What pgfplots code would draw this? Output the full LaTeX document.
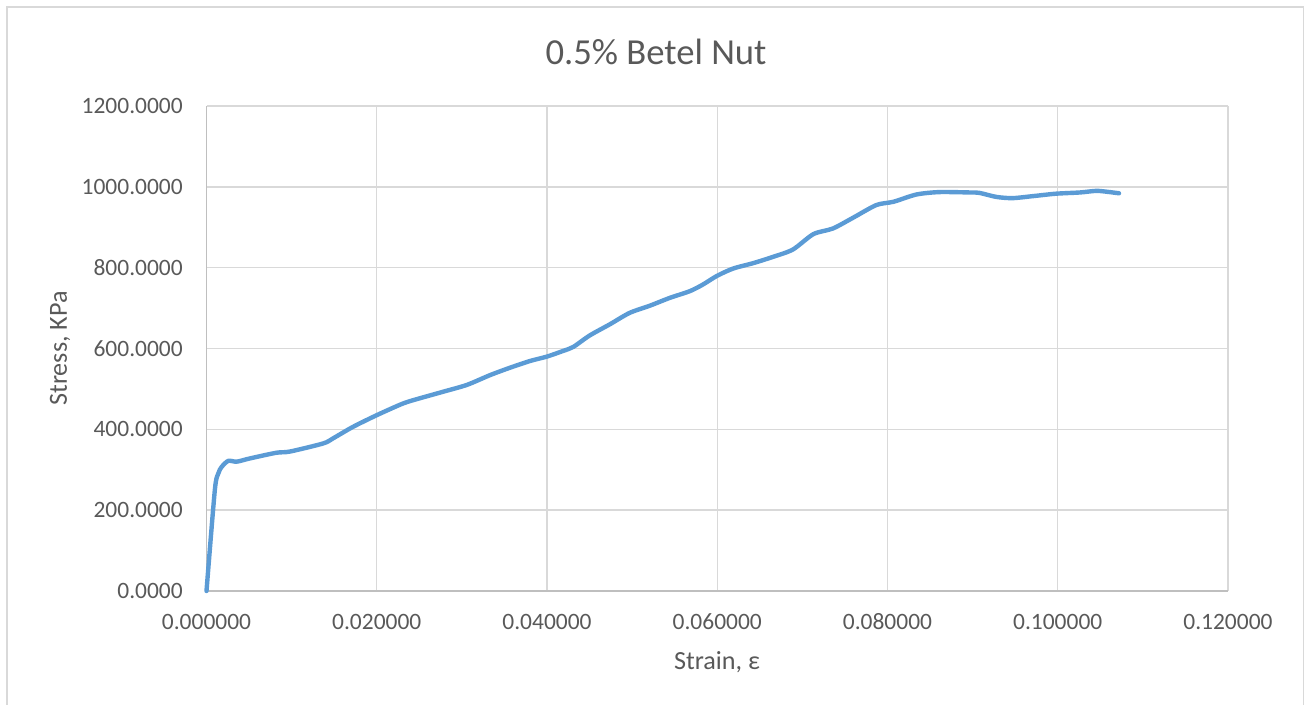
\documentclass[border=0pt]{standalone}
\usepackage{fontspec}
\setmainfont{Carlito}
\usepackage{pgfplots}
\pgfplotsset{compat=1.18}
\definecolor{txt}{HTML}{595959}
\definecolor{grd}{HTML}{D9D9D9}
\definecolor{axl}{HTML}{BFBFBF}
\definecolor{ser}{HTML}{5B9BD5}
\begin{document}
\begin{tikzpicture}
\path[use as bounding box] (0pt,0pt) rectangle (983.25pt,528.75pt);
\draw[grd, line width=1.2pt] (5.25pt,0pt) -- (5.25pt,523.5pt) -- (977.6pt,523.5pt) -- (977.6pt,0pt);
\begin{axis}[
  at={(154.875pt,85.5pt)}, anchor=origin,
  scale only axis, width=766.1pt, height=363.75pt,
  xmin=0, xmax=0.12, ymin=0, ymax=1200,
  xtick={0,0.02,...,0.12}, ytick={0,200,...,1200},
  axis lines=left,
  axis line style={axl, line width=1pt, -},
  grid=major, major grid style={grd, line width=1.1pt},
  major tick length=0pt,
  tick label style={font=\fontsize{17.6}{20}\selectfont, text=txt},
  /pgf/number format/assume math mode=true,
  xticklabel style={/pgf/number format/fixed, /pgf/number format/fixed zerofill, /pgf/number format/precision=6, /pgf/number format/1000 sep={}, anchor=north, inner sep=0pt, yshift=-17pt},
  yticklabel style={/pgf/number format/fixed, /pgf/number format/fixed zerofill, /pgf/number format/precision=4, /pgf/number format/1000 sep={}, anchor=east, inner sep=0pt, xshift=-17.6pt},
  clip=false,
]
\addplot[ser, line width=3.3pt, smooth, tension=0.45, line cap=round, line join=round] coordinates {
(0,0)
(0.00098,250)
(0.00139,291)
(0.00178,307)
(0.00256,322)
(0.00355,320)
(0.0051,328)
(0.0082,342)
(0.0098,345)
(0.0137,365)
(0.0149,378)
(0.0172,406)
(0.0200,435)
(0.0231,464)
(0.0251,477)
(0.0278,493)
(0.0306,510)
(0.0333,534)
(0.0356,552)
(0.0380,569)
(0.0400,580)
(0.0419,594)
(0.0431,604)
(0.0450,632)
(0.0474,660)
(0.0497,688)
(0.0521,706)
(0.0544,725)
(0.0568,742)
(0.0583,758)
(0.0600,780)
(0.0619,798)
(0.0642,811)
(0.0666,827)
(0.0689,845)
(0.0713,883)
(0.0736,897)
(0.0760,924)
(0.0787,955)
(0.0807,963)
(0.0834,981)
(0.0861,987)
(0.0897,986)
(0.0908,985)
(0.0928,975)
(0.0947,972)
(0.0971,977)
(0.0998,983)
(0.1026,986)
(0.1045,990)
(0.1057,988)
(0.1072,984)
};
\end{axis}
\node[text=txt, font=\fontsize{27.5}{32}\selectfont] at (492pt,489.75pt) {0.5\% Betel Nut};
\node[text=txt, font=\fontsize{19.6}{23}\selectfont] at (537.75pt,32.25pt) {Strain, ε};
\node[text=txt, font=\fontsize{19.6}{23}\selectfont, rotate=90] at (45pt,267.4pt) {Stress, KPa};
\end{tikzpicture}
\end{document}
